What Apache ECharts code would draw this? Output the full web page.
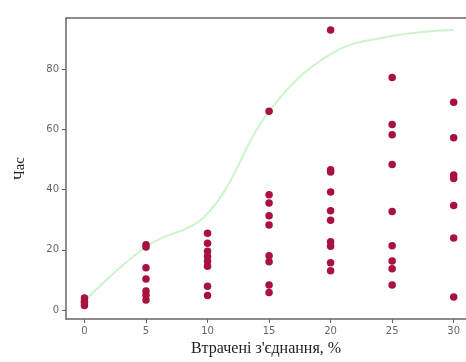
<!DOCTYPE html>
<html>
<head>
<meta charset="utf-8">
<script src="https://cdn.jsdelivr.net/npm/echarts@6/dist/echarts.min.js"></script>
<style>html,body{margin:0;padding:0;background:#fff}#c{width:466px;height:362px}</style>
</head>
<body>
<div id="c"></div>
<script>
// Data
const xTicks = [0, 5, 10, 15, 20, 25, 30];
const yTicks = [0, 20, 40, 60, 80];
const pts0 = [1.5, 2.5, 3, 4];
const pts5 = [21.7, 20.9, 14, 10.3, 6.3, 5, 3.3];
const pts10 = [25.5, 22.2, 19.5, 17.8, 16.2, 14.5, 7.9, 4.8];
const pts15 = [66, 38.3, 35.5, 31.3, 28.2, 18, 16, 8.3, 5.8];
const pts20 = [93, 46.6, 45.8, 39.2, 33, 29.8, 22.7, 21.2, 15.7, 13];
const pts25 = [77.2, 61.6, 58.2, 48.3, 32.7, 21.3, 16.3, 13.7, 8.3];
const pts30 = [69, 57.2, 44.8, 43.7, 34.7, 23.9, 4.3];
const trendX = [0, 5, 10, 15, 20, 25, 30];
const trendY = [3, 21, 32, 66, 85, 91, 93];

const groups = [[0, pts0], [5, pts5], [10, pts10], [15, pts15], [20, pts20], [25, pts25], [30, pts30]];
const scatterData = [];
groups.forEach(([x, arr]) => arr.forEach(v => scatterData.push([x, v])));
const lineData = trendX.map((x, i) => [x, trendY[i]]);

const axisLineStyle = {color: '#666', width: 1.5};
const chart = echarts.init(document.getElementById('c'), null, {renderer: 'canvas'});
chart.setOption({
  backgroundColor: '#fff',
  animation: false,
  grid: {left: 66, top: 18, bottom: 41, right: 0, show: false},
  xAxis: [{
    type: 'value', min: -1.5, max: 31,
    name: "Втрачені з'єднання, %", nameLocation: 'middle', nameGap: 22,
    nameTextStyle: {fontFamily: 'Liberation Serif', fontSize: 16, color: '#222'},
    axisLine: {show: true, onZero: false, lineStyle: axisLineStyle},
    axisTick: {show: true, length: 4, customValues: xTicks, lineStyle: {color: '#666'}},
    axisLabel: {customValues: xTicks, color: '#666', fontSize: 10, margin: 7, fontFamily: 'DejaVu Sans'},
    splitLine: {show: false}
  }, {
    type: 'value', position: 'top', min: -1.5, max: 31,
    axisLine: {show: true, onZero: false, lineStyle: axisLineStyle},
    axisTick: {show: false}, axisLabel: {show: false}, splitLine: {show: false}
  }],
  yAxis: {
    type: 'value', min: -3, max: 97,
    name: 'Час', nameLocation: 'middle', nameGap: 38, nameRotate: 90,
    nameTextStyle: {fontFamily: 'Liberation Serif', fontSize: 15, color: '#222'},
    axisLine: {show: true, onZero: false, lineStyle: axisLineStyle},
    axisTick: {show: true, length: 4, customValues: yTicks, lineStyle: {color: '#666'}},
    axisLabel: {customValues: yTicks, color: '#666', fontSize: 10, margin: 7, fontFamily: 'DejaVu Sans'},
    splitLine: {show: false}
  },
  series: [
    {
      type: 'line', data: lineData, smooth: 0.4, showSymbol: false, symbol: 'none',
      lineStyle: {color: 'rgba(140,230,140,0.45)', width: 2}, z: 1
    },
    {
      type: 'scatter', data: scatterData, symbolSize: 7.5,
      itemStyle: {color: '#a8123f', opacity: 1}, z: 2
    }
  ]
});
</script>
</body>
</html>
